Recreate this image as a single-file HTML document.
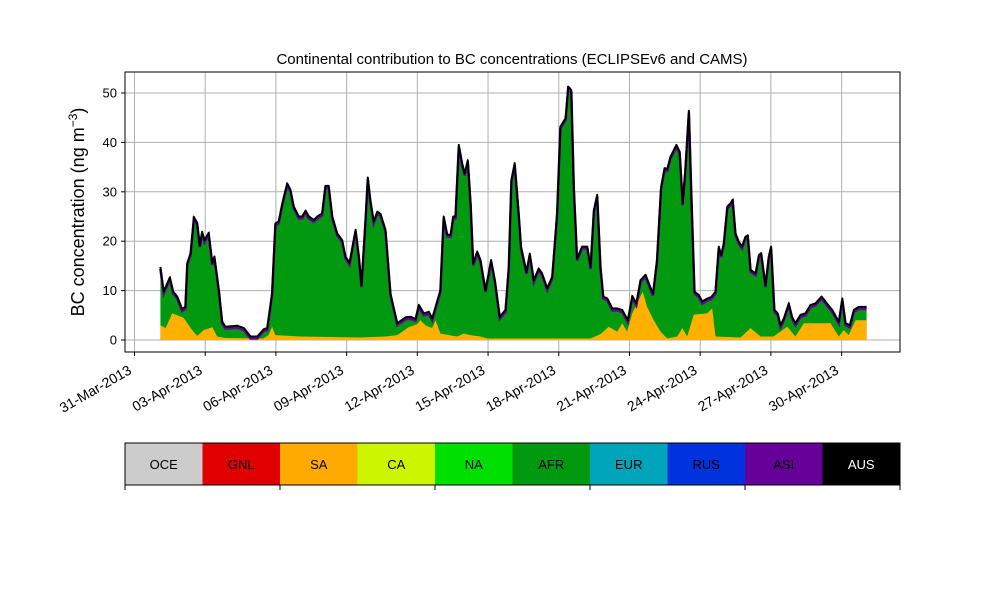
<!DOCTYPE html>
<html><head><meta charset="utf-8"><style>
body{margin:0;background:#fff;}
svg text{font-family:"Liberation Sans","DejaVu Sans",sans-serif;}
</style></head><body>
<svg id="chart" width="1000" height="600" viewBox="0 0 1000 600" xmlns="http://www.w3.org/2000/svg">
<rect width="1000" height="600" fill="#fff"/>
<text x="512" y="64" font-size="15" text-anchor="middle">Continental contribution to BC concentrations (ECLIPSEv6 and CAMS)</text>
<text transform="translate(84,212) rotate(-90)" font-size="18" text-anchor="middle">BC concentration (ng m<tspan dy="-7" font-size="12">−3</tspan><tspan dy="7">)</tspan></text>
<g id="grid"></g>
<g id="marks"></g>
<g id="axes"></g>
<g id="colorbar"></g>
</svg>
<script>
const totDays=[1.10,1.24,1.50,1.64,1.81,2.02,2.16,2.24,2.38,2.52,2.66,2.77,2.87,2.97,3.15,3.30,3.39,3.58,3.72,3.86,4.36,4.64,4.92,5.21,5.49,5.63,5.84,5.98,6.12,6.27,6.48,6.62,6.76,6.97,7.11,7.26,7.40,7.61,7.75,7.96,8.10,8.24,8.39,8.60,8.81,8.95,9.12,9.38,9.52,9.63,9.80,9.90,10.01,10.15,10.30,10.44,10.65,10.86,11.15,11.50,11.71,11.92,12.06,12.27,12.49,12.63,12.98,13.12,13.27,13.41,13.52,13.62,13.76,13.90,14.01,14.14,14.26,14.37,14.54,14.68,14.89,15.13,15.29,15.50,15.74,15.88,15.99,16.13,16.30,16.40,16.63,16.77,16.94,17.15,17.29,17.51,17.72,17.93,18.07,18.29,18.40,18.53,18.64,18.78,18.99,19.21,19.35,19.49,19.63,19.77,19.89,20.06,20.27,20.48,20.69,20.93,21.12,21.29,21.47,21.68,21.82,22.00,22.17,22.34,22.49,22.60,22.74,22.99,23.13,23.26,23.37,23.52,23.62,23.76,23.94,24.09,24.30,24.47,24.65,24.79,24.89,25.00,25.15,25.29,25.38,25.50,25.64,25.78,25.92,26.02,26.14,26.35,26.49,26.59,26.77,26.91,27.01,27.15,27.29,27.41,27.55,27.76,27.90,28.04,28.26,28.47,28.68,28.89,29.15,29.39,29.60,29.88,30.03,30.17,30.35,30.52,30.73,31.06];
const totValues=[14.8,9.8,12.7,9.8,8.8,6.3,6.7,15.6,17.6,24.9,23.7,19.2,21.9,20.2,21.7,15.6,16.9,10.1,3.7,2.7,2.9,2.4,0.7,0.7,2.2,2.4,9.5,23.6,24,27.7,31.7,30.4,27,25,25,26.2,25,24.3,25,25.6,31.2,31.2,25,21.6,20.2,16.9,15.6,22.3,16.9,11.1,24.3,32.9,28.3,24,26,25.5,22.3,9.4,3.4,4.6,4.7,4.3,7.1,5.4,5.7,4.4,10.1,25,21.3,21.3,25,25,39.5,35.8,33.7,36.4,27.7,15.5,17.9,16.2,10.1,16.2,12.1,4.7,6.1,14.8,32.4,35.8,25.6,18.9,13.8,17.5,12.1,14.5,13.5,10.5,12.8,25.6,43.2,44.9,51.3,50.6,31,16.5,18.9,18.9,14.8,26.3,29.4,14.8,8.8,8.4,6.4,6.4,6.1,4.0,8.9,7.4,12.1,13.2,11.5,9.4,16.2,31,34.8,34.6,37.1,39.5,38.1,27.7,34.4,46.4,30.4,9.8,9.1,7.8,8.4,8.7,9.8,18.9,17.2,19.6,27,27.7,28.4,21.6,19.9,18.9,20.9,21.2,14.2,13.5,17.2,17.6,11.1,16.9,18.9,6.1,5.4,3,4.4,7.4,4.7,3.4,5.1,5.4,7.1,7.4,8.8,7.3,6.1,3.7,8.4,3.4,3.0,6.1,6.7,6.7];
const saDays=[1.10,1.32,1.60,2.08,2.45,2.66,2.93,3.30,3.51,3.86,5.47,5.69,5.84,5.98,7.04,9.59,10.65,11.15,11.63,11.99,12.13,12.34,12.63,12.77,12.98,13.69,13.97,14.26,14.68,14.97,19.35,19.77,20.12,20.48,20.69,20.90,21.12,21.56,21.75,22.03,22.32,22.60,23.03,23.24,23.45,23.73,24.30,24.51,24.65,25.71,26.14,26.56,27.11,27.69,28.04,28.40,29.53,29.88,30.09,30.30,30.59,31.06];
const saValues=[3,2.4,5.4,4.5,2,0.8,2,2.6,0.7,0.4,0.3,1.0,2.7,1.0,0.7,0.5,0.7,1.0,2.6,3.2,4.0,3,2.4,4.0,1.3,0.7,1.3,1,0.7,0.3,0.3,1.2,2.7,1.7,3.4,1.7,5.4,9.8,6.7,4,1.7,0.3,0.7,2.4,0.7,5.1,5.4,6.4,0.7,0.5,2.4,0.7,0.7,2.7,0.7,3.4,3.4,0.7,2.0,1.0,4,4];
const yTicks=[0,10,20,30,40,50];
const xTickDays=[0,3,6,9,12,15,18,21,24,27,30];
const xTickLabels=["31-Mar-2013","03-Apr-2013","06-Apr-2013","09-Apr-2013","12-Apr-2013","15-Apr-2013","18-Apr-2013","21-Apr-2013","24-Apr-2013","27-Apr-2013","30-Apr-2013"];
const regions=["OCE","GNL","SA","CA","NA","AFR","EUR","RUS","ASI","AUS"];
const regionColors=["#cccccc","#e00000","#ffaa00","#ccf500","#00e000","#009910","#00a5bb","#0033dd","#660099","#000000"];

const NS="http://www.w3.org/2000/svg";
const L=125,R=900,T=72,B=352;
const X=d=>134.5+d*23.57;
const Y=v=>340-v*4.94;
function mk(tag,attrs,parent){const e=document.createElementNS(NS,tag);for(const k in attrs)e.setAttribute(k,attrs[k]);parent.appendChild(e);return e;}
const grid=document.getElementById('grid'),marks=document.getElementById('marks'),axes=document.getElementById('axes'),cb=document.getElementById('colorbar');

yTicks.forEach(v=>{
  const g=mk('line',{x1:L,x2:R,y1:Y(v),y2:Y(v),stroke:'#b0b0b0','stroke-width':1},grid);
  
  
  const t=mk('line',{x1:L-4,x2:L,y1:Y(v),y2:Y(v),stroke:'#000'},axes);
  
  
  const tx=mk('text',{x:L-8,y:Y(v)+4.5,'font-size':13,'text-anchor':'end'},axes);
  tx.textContent=v;
  
  
});
xTickDays.forEach((d,i)=>{
  const g=mk('line',{x1:X(d),x2:X(d),y1:T,y2:B,stroke:'#b0b0b0','stroke-width':1},grid);
  
  
  const t=mk('line',{x1:X(d),x2:X(d),y1:B,y2:B+4,stroke:'#000'},axes);
  
  
  const tx=mk('text',{transform:`translate(${X(d)-2},${B+21}) rotate(-30)`,'font-size':14,'text-anchor':'end'},axes);
  tx.textContent=xTickLabels[i];
  
  
});

function pts(days,vals){return days.map((d,i)=>X(d).toFixed(1)+','+Y(vals[i]).toFixed(1));}
const tp=pts(totDays,totValues);
const base=`${X(totDays[totDays.length-1])},${Y(0)} ${X(totDays[0])},${Y(0)}`;
const afr=mk('polygon',{points:tp.join(' ')+' '+base,fill:'#009910'},marks);


const sp=pts(saDays,saValues);
const sa=mk('polygon',{points:sp.join(' ')+` ${X(saDays[saDays.length-1])},${Y(0)} ${X(saDays[0])},${Y(0)}`,fill:'#ffb000'},marks);


const asi=mk('polyline',{points:totDays.map((d,i)=>X(d).toFixed(1)+','+(Y(totValues[i])+2).toFixed(1)).join(' '),fill:'none',stroke:'#660099','stroke-width':2.5},marks);


const tot=mk('polyline',{points:tp.join(' '),fill:'none',stroke:'#000','stroke-width':2,'stroke-linejoin':'round'},marks);



const frame=mk('rect',{x:L,y:T,width:R-L,height:B-T,fill:'none',stroke:'#000','stroke-width':1},axes);



const cw=(R-L)/regions.length;
regions.forEach((r,i)=>{
  const rc=mk('rect',{x:L+i*cw,y:443,width:cw,height:42,fill:regionColors[i]},cb);
  
  
  const tx=mk('text',{x:L+i*cw+cw/2,y:469,'font-size':13,'text-anchor':'middle',fill:r==='AUS'?'#fff':'#000'},cb);
  tx.textContent=r;
  
  
});
const cf=mk('rect',{x:L,y:443,width:R-L,height:42,fill:'none',stroke:'#000','stroke-width':1},cb);


[0,2,4,6,8,10].forEach(k=>{
  const t=mk('line',{x1:L+k*cw,x2:L+k*cw,y1:485,y2:490,stroke:'#000'},cb);
  
  
});
</script>
</body></html>
